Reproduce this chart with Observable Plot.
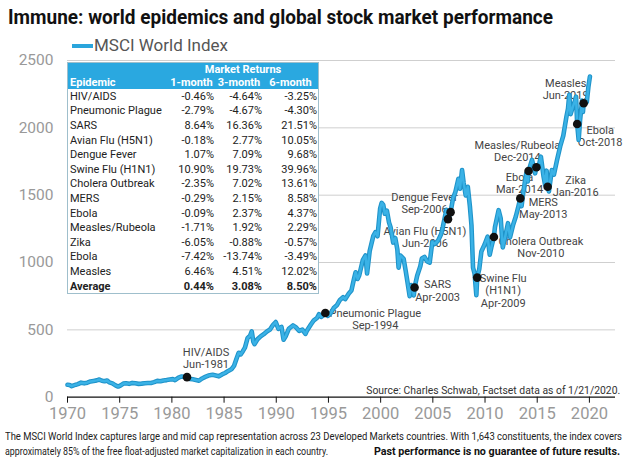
<!DOCTYPE html>
<html><head><meta charset="utf-8">
<script src="https://cdn.jsdelivr.net/npm/d3@7"></script>
<script src="https://cdn.jsdelivr.net/npm/@observablehq/plot@0.6"></script>
<style>
body{margin:0;background:#fff;}
#wrap{position:relative;width:640px;height:462px;overflow:hidden;font-family:Roboto,"Liberation Sans",sans-serif;background:#fff;}
#wrap svg{position:absolute;left:0;top:0;}
.abs{position:absolute;white-space:nowrap;line-height:1;}
#tbl{position:absolute;left:67px;top:62px;width:252px;background:#fff;border:1px solid #9fbfcc;box-sizing:border-box;
  display:grid;grid-template-columns:100px 47px 48px 55px;grid-template-rows:13px 13px repeat(14,14.6px);font-size:11px;color:#222;}
#tbl div{white-space:nowrap;line-height:1;display:flex;align-items:center;}
#tbl .h{background:#2aa8e0;color:#fff;font-weight:bold;}
#tbl .num{justify-content:flex-end;padding-right:1px;}
#tbl .ctr{justify-content:center;}
#tbl .lbl{padding-left:2px;}
#tbl .b{font-weight:bold;}
</style></head><body><div id="wrap"></div>
<script>
// ---- data ----
const years = [1970.0,1970.2,1970.4,1970.6,1970.8,1971.0,1971.3,1971.6,1971.9,1972.2,1972.5,1972.8,1973.05,1973.3,1973.55,1973.8,1974.0,1974.3,1974.6,1974.85,1975.1,1975.35,1975.6,1975.9,1976.2,1976.5,1976.8,1977.1,1977.4,1977.7,1978.0,1978.3,1978.6,1978.9,1979.2,1979.5,1979.8,1980.1,1980.3,1980.6,1980.9,1981.2,1981.45,1981.7,1982.0,1982.3,1982.6,1982.9,1983.2,1983.5,1983.9,1984.2,1984.5,1984.8,1985.1,1985.4,1985.7,1985.95,1986.2,1986.4,1986.6,1986.8,1987.0,1987.25,1987.5,1987.65,1987.8,1987.92,1988.2,1988.5,1988.8,1989.1,1989.4,1989.7,1989.95,1990.2,1990.5,1990.7,1990.9,1991.2,1991.6,1991.9,1992.2,1992.5,1992.8,1992.95,1993.3,1993.6,1993.9,1994.1,1994.3,1994.5,1994.7,1994.95,1995.2,1995.5,1995.8,1996.1,1996.4,1996.6,1996.95,1997.2,1997.45,1997.6,1997.8,1997.95,1998.3,1998.55,1998.7,1998.95,1999.3,1999.5,1999.7,1999.95,2000.1,2000.25,2000.4,2000.6,2000.8,2000.95,2001.2,2001.4,2001.6,2001.72,2001.9,2002.2,2002.4,2002.55,2002.78,2002.92,2003.1,2003.18,2003.25,2003.5,2003.8,2003.95,2004.2,2004.45,2004.7,2004.95,2005.2,2005.5,2005.8,2005.95,2006.3,2006.38,2006.45,2006.58,2006.7,2006.95,2007.15,2007.45,2007.6,2007.8,2007.95,2008.15,2008.35,2008.55,2008.7,2008.85,2009.0,2009.17,2009.25,2009.45,2009.65,2009.95,2010.25,2010.45,2010.6,2010.85,2010.95,2011.3,2011.5,2011.7,2011.9,2012.2,2012.4,2012.7,2012.95,2013.2,2013.38,2013.5,2013.7,2013.95,2014.1,2014.17,2014.5,2014.8,2014.92,2015.1,2015.35,2015.6,2015.75,2015.9,2016.0,2016.12,2016.4,2016.6,2016.9,2017.2,2017.5,2017.8,2017.95,2018.07,2018.2,2018.4,2018.6,2018.72,2018.83,2018.97,2019.1,2019.3,2019.38,2019.45,2019.6,2019.75,2019.9,2020.05];
const values = [92,90,82,88,93,97,108,103,108,117,121,125,131,122,118,124,110,103,88,79,88,101,104,99,106,103,99,101,104,105,106,112,121,118,124,127,131,134,127,143,154,152,149,136,133,128,123,139,151,161,166,161,155,169,180,195,207,232,288,330,318,342,368,438,458,489,412,394,430,452,468,488,502,538,558,508,522,427,452,508,533,518,492,502,470,496,538,571,588,616,596,608,625,604,622,662,682,722,742,728,770,792,880,928,878,905,1020,1052,918,1085,1198,1225,1195,1400,1443,1428,1362,1385,1298,1262,1148,1182,1098,962,1052,1028,938,866,750,832,788,756,814,902,972,1030,1042,1008,1000,1152,1138,1162,1212,1262,1392,1318,1322,1340,1374,1482,1520,1622,1548,1687,1592,1498,1562,1418,1278,962,918,757,888,952,1082,1132,1192,1058,1112,1190,1262,1389,1328,1112,1180,1292,1188,1282,1342,1418,1476,1418,1540,1662,1602,1679,1762,1662,1707,1702,1786,1642,1578,1682,1563,1528,1687,1652,1761,1862,1942,2083,2142,2245,2102,2152,2198,2232,2029,1910,2052,2202,2118,2183,2183,2192,2302,2381];

const eventLabels = ["HIV/AIDS","Pneumonic Plague","SARS","Avian Flu (H5N1)","Dengue Fever","Swine Flu\n(H1N1)","Cholera Outbreak","MERS","Ebola","Measles/Rubeola","Zika","Ebola","Measles"];
const eventDates = ["Jun-1981","Sep-1994","Apr-2003","Jun-2006","Sep-2006","Apr-2009","Nov-2010","May-2013","Mar-2014","Dec-2014","Jan-2016","Oct-2018","Jun-2019"];
const eventYears = [1981.45,1994.7,2003.25,2006.45,2006.7,2009.25,2010.85,2013.38,2014.17,2014.92,2016.0,2018.83,2019.45];
const eventValues = [149,625,814,1322,1374,888,1190,1476,1679,1707,1563,2029,2183];

const tableEpidemics = ["HIV/AIDS","Pneumonic Plague","SARS","Avian Flu (H5N1)","Dengue Fever","Swine Flu (H1N1)","Cholera Outbreak","MERS","Ebola","Measles/Rubeola","Zika","Ebola","Measles"];
const return1m = ["-0.46%","-2.79%","8.64%","-0.18%","1.07%","10.90%","-2.35%","-0.29%","-0.09%","-1.71%","-6.05%","-7.42%","6.46%"];
const return3m = ["-4.64%","-4.67%","16.36%","2.77%","7.09%","19.73%","7.02%","2.15%","2.37%","1.92%","-0.88%","-13.74%","4.51%"];
const return6m = ["-3.25%","-4.30%","21.51%","10.05%","9.68%","39.96%","13.61%","8.58%","4.37%","2.29%","-0.57%","-3.49%","12.02%"];
const averageReturns = ["0.44%","3.08%","8.50%"];

const yTicks = [0,500,1000,1500,2000,2500];
const xTicks = [1970,1975,1980,1985,1990,1995,2000,2005,2010,2015,2020];

// label offsets (px) from each event dot: [dx, dy]
const labelOffsets = [[19,-19],[50,6],[23,3],[-23,18],[-26,-9],[26,13],[47,10],[23,10],[-9,12],[-19,-16],[28,-1],[23,12],[-18,-14]];

// ---- build ----
const series = years.map((y,i)=>({year:y, value:values[i]}));
const events = eventYears.map((y,i)=>({year:y, value:eventValues[i], label:eventLabels[i]+"\n"+eventDates[i]}));

const labelMarks = events.map((e,i)=>Plot.text([e],{x:"year",y:"value",text:"label",dx:labelOffsets[i][0],dy:labelOffsets[i][1],
  textAnchor:"middle",lineAnchor:"middle",lineHeight:1.1,fontSize:11,fill:"#444"}));

const chart = Plot.plot({
  width:640, height:462,
  marginTop:60, marginBottom:65.3, marginLeft:67, marginRight:25,
  x:{domain:[1970,2022.5]},
  y:{domain:[0,2500]},
  style:{fontFamily:'Roboto,"Liberation Sans",sans-serif', background:"transparent"},
  marks:[
    Plot.gridY(yTicks.filter(d=>d>0),{stroke:"#cfcfcf",strokeOpacity:1}),
    Plot.axisY(yTicks,{tickSize:0,tickPadding:14,fontSize:15.5,fill:"#999",tickFormat:d=>String(d),label:null}),
    Plot.axisX(xTicks,{tickSize:6,tickPadding:4,fontSize:16.5,tickFormat:d=>String(d),label:null,color:"#999"}),
    Plot.ruleY([0],{stroke:"#111",strokeWidth:1.3}),
    ...labelMarks,
    Plot.line(series,{x:"year",y:"value",stroke:"#1f93c9",strokeWidth:4.6,strokeLinejoin:"round"}),
    Plot.line(series,{x:"year",y:"value",stroke:"#3ab2e6",strokeWidth:2.5,strokeLinejoin:"round"}),
    Plot.dot(events,{x:"year",y:"value",r:4.3,fill:"#111",stroke:"none"})
  ]
});
const wrap = document.getElementById("wrap");
wrap.appendChild(chart);
d3.select(chart).selectAll('g[aria-label="x-axis tick"]').attr("stroke","#111");

function addText(txt, {left, right, cy, size, color="#222", weight="normal", width, family}){
  const el = document.createElement("div");
  el.className = "abs";
  el.textContent = txt;
  el.style.fontSize = size+"px";
  el.style.color = color;
  el.style.fontWeight = weight;
  if (family) el.style.fontFamily = family;
  el.style.top = (cy - size/2)+"px";
  if (right !== undefined) el.style.right = (640-right)+"px"; else el.style.left = left+"px";
  wrap.appendChild(el);
  if (width){
    const nat = el.getBoundingClientRect().width;
    el.style.transformOrigin = right !== undefined ? "right center" : "left center";
    el.style.transform = `scaleX(${width/nat})`;
  }
  return el;
}

addText("Immune: world epidemics and global stock market performance",{left:8,cy:17,size:20.5,weight:"bold",color:"#111",width:545});
// legend
const sw = document.createElement("div");
sw.style.cssText = "position:absolute;left:72px;top:44px;width:21px;height:4px;background:#2aa5dc;";
wrap.appendChild(sw);
addText("MSCI World Index",{left:94,cy:45.5,size:16,color:"#555",width:134});
addText("Source: Charles Schwab, Factset data as of 1/21/2020.",{right:620,cy:391,size:11.5,color:"#333",width:254});
addText("The MSCI World Index captures large and mid cap representation across 23 Developed Markets countries. With 1,643 constituents, the index covers",{left:5,cy:437,size:10.5,color:"#222",width:617});
addText("approximately 85% of the free float-adjusted market capitalization in each country.",{left:5,cy:452,size:10.5,color:"#222",width:323});
addText("Past performance is no guarantee of future results.",{left:374,cy:452,size:10.5,color:"#111",weight:"bold",width:246});

// table
const tbl = document.createElement("div");
tbl.id = "tbl";
function cell(text, cls, style){ const c=document.createElement("div"); c.className=cls; c.textContent=text; if(style) c.style.cssText=style; tbl.appendChild(c); }
cell("","h");
cell("Market Returns","h ctr","grid-column:2 / span 3;");
cell("Epidemic","h lbl");
cell("1-month","h ctr"); cell("3-month","h ctr"); cell("6-month","h ctr");
tableEpidemics.forEach((e,i)=>{
  cell(e,"lbl"); cell(return1m[i],"num"); cell(return3m[i],"num"); cell(return6m[i],"num");
});
cell("Average","lbl b"); averageReturns.forEach(v=>cell(v,"num b"));
wrap.appendChild(tbl);
</script>
</body></html>
